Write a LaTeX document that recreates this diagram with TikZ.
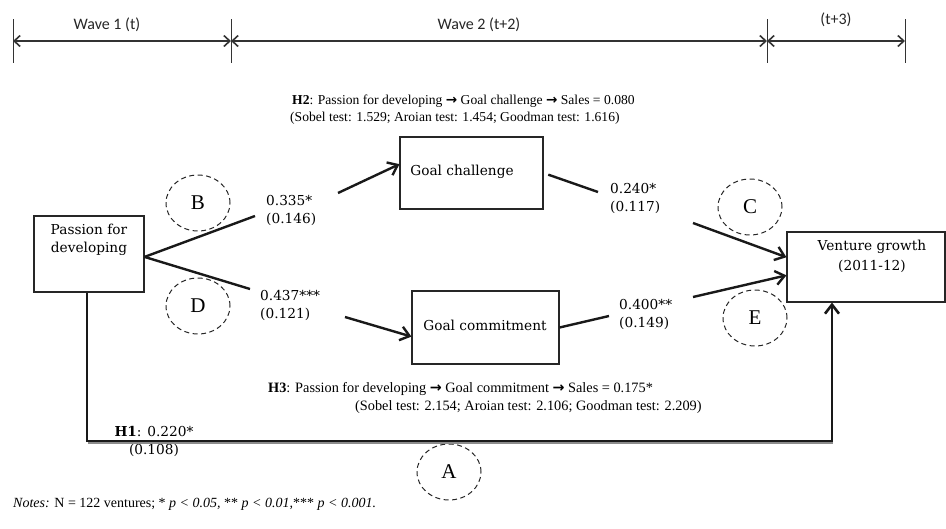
\documentclass[tikz,border=0pt]{standalone}
\usepackage{fontspec}
\setmainfont{Liberation Serif}
\newfontfamily\camfont{DejaVu Serif}
\newfontfamily\calfont{Carlito}
\newfontfamily\arrfont{DejaVu Sans}
\usetikzlibrary{arrows.meta,shapes.geometric}
\newcommand\harr{{\arrfont\bfseries →}}
\begin{document}
\begin{tikzpicture}[x=1pt,y=-1pt,
  box/.style={draw=black!85, line width=1.1pt, inner sep=0pt, rectangle},
  lbl/.style={font=\camfont\fontsize{13.7}{18}\selectfont, inner sep=0pt, align=left},
  htxt/.style={font=\fontsize{13.6}{16}\selectfont, inner sep=0pt},
  h3txt/.style={font=\fontsize{14.3}{17}\selectfont, inner sep=0pt},
  wave/.style={font=\calfont\fontsize{16}{18}\selectfont, inner sep=0pt, text=black!85},
  circ/.style={draw=black!85, ellipse, dash pattern=on 5pt off 3.5pt, line width=1pt,
    minimum width=64pt, minimum height=56pt, inner sep=0pt, font=\fontsize{21}{24}\selectfont},
  conn/.style={line width=2.4pt, black!90},
  tip/.style={-{Straight Barb[length=9pt,width=14pt]}},
  tick/.style={line width=0.8pt, black!80},
  tl/.style={line width=1.6pt, black!80, {Straight Barb[length=6pt,width=11pt]}-{Straight Barb[length=6pt,width=11pt]}}
]
\useasboundingbox (0,0) rectangle (946,528);

% timeline
\coordinate (tk1) at (13,41);
\coordinate (tk2) at (231,41);
\coordinate (tk3) at (767,41);
\coordinate (tk4) at (905,41);
\foreach \t in {tk1,tk2,tk3,tk4} \draw[tick] (\t) ++(0,-22) -- ++(0,44);
\draw[tl] (tk1) -- (tk2);
\draw[tl] (tk2) -- (tk3);
\draw[tl] (tk3) -- (tk4);
\node[wave] (w1) at (107,25) {Wave 1 (t)};
\node[wave] (w2) at (479,25) {Wave 2 (t+2)};
\node[wave] (w3) at (836,20) {(t+3)};

% hypothesis texts
\node[htxt, anchor=west] (h2a) at (292,101) {\textbf{H2}: Passion for developing \harr{} Goal challenge \harr{} Sales = 0.080};
\node[htxt, anchor=west] (h2b) at (290,118) {(Sobel test: 1.529; Aroian test: 1.454; Goodman test: 1.616)};
\node[h3txt, anchor=west] (h3a) at (268,389) {\textbf{H3}: Passion for developing \harr{} Goal commitment \harr{} Sales = 0.175*};
\node[h3txt, anchor=west] (h3b) at (355,407) {(Sobel test: 2.154; Aroian test: 2.106; Goodman test: 2.209)};

% boxes
\node[box, minimum width=110pt, minimum height=76pt] (passion) at (89,254) {};
\node[lbl, align=center] (passiontxt) at (89,240) {Passion for\\developing};
\node[box, minimum width=143pt, minimum height=72pt] (challenge) at (471.5,173) {};
\node[lbl] (challengetxt) at (462,172) {Goal challenge};
\node[box, minimum width=147pt, minimum height=73pt] (commitment) at (485.5,327.5) {};
\node[lbl] (commitmenttxt) at (485,325) {Goal commitment};
\node[box, minimum width=158pt, minimum height=70pt] (venture) at (866,267) {};
\node[lbl, align=center, font=\camfont\fontsize{13.7}{20}\selectfont] (venturetxt) at (872,256) {Venture growth\\(2011-12)};

% dashed circles
\node[circ] (B) at (198,203) {B};
\node[circ] (D) at (198,306) {D};
\node[circ] (C) at (750,207) {C};
\node[circ] (E) at (755,318) {E};
\node[circ] (A) at (449,472) {A};

% path labels
\node[lbl, anchor=west] (lb) at (266,210) {0.335*\\(0.146)};
\node[lbl, anchor=west] (ld) at (260,305) {0.437***\\(0.121)};
\node[lbl, anchor=west] (lc) at (610,198) {0.240*\\(0.117)};
\node[lbl, anchor=west] (le) at (619,314) {0.400**\\(0.149)};
\node[lbl, align=center] (lh1) at (154,441) {{\bfseries H1}: 0.220*\\(0.108)};

% connector break points
\coordinate (bA) at (255,216);
\coordinate (bB) at (338,193);
\coordinate (dA) at (250,289);
\coordinate (dB) at (345,317);
\coordinate (cA) at (598,192);
\coordinate (cB) at (693,223);
\coordinate (eA) at (609,316);
\coordinate (eB) at (693,297);
\coordinate (h1a) at (87,441);
\coordinate (h1b) at (832,441);

\draw[conn] (passion.-3) -- (bA);
\draw[conn,tip] (bB) -- (challenge.173);
\draw[conn] (passion.-3) -- (dA);
\draw[conn,tip] (dB) -- (commitment.187);
\draw[conn, shorten <=5pt] (challenge.east) -- (cA);
\draw[conn,tip] (cB) -- (venture.173);
\draw[conn] (commitment.east) -- (eA);
\draw[conn,tip] (eB) -- (venture.186);
\draw[black!45, line width=1.4pt] ([xshift=1pt,yshift=-1.8pt]h1a) -- ([xshift=1pt,yshift=-1.8pt]h1b);
\draw[conn, line width=2.6pt, tip] (passion.south -| h1a) -- (h1a) -- (h1b) -- (venture.south -| h1b);

% notes
\node[htxt, anchor=west, font=\fontsize{14}{16}\selectfont] (notes) at (13,504) {\textit{Notes:} N = 122 ventures; * \textit{p {\textless} 0.05,} ** \textit{p {\textless} 0.01,}*** \textit{p {\textless} 0.001.}};
\end{tikzpicture}
\end{document}
